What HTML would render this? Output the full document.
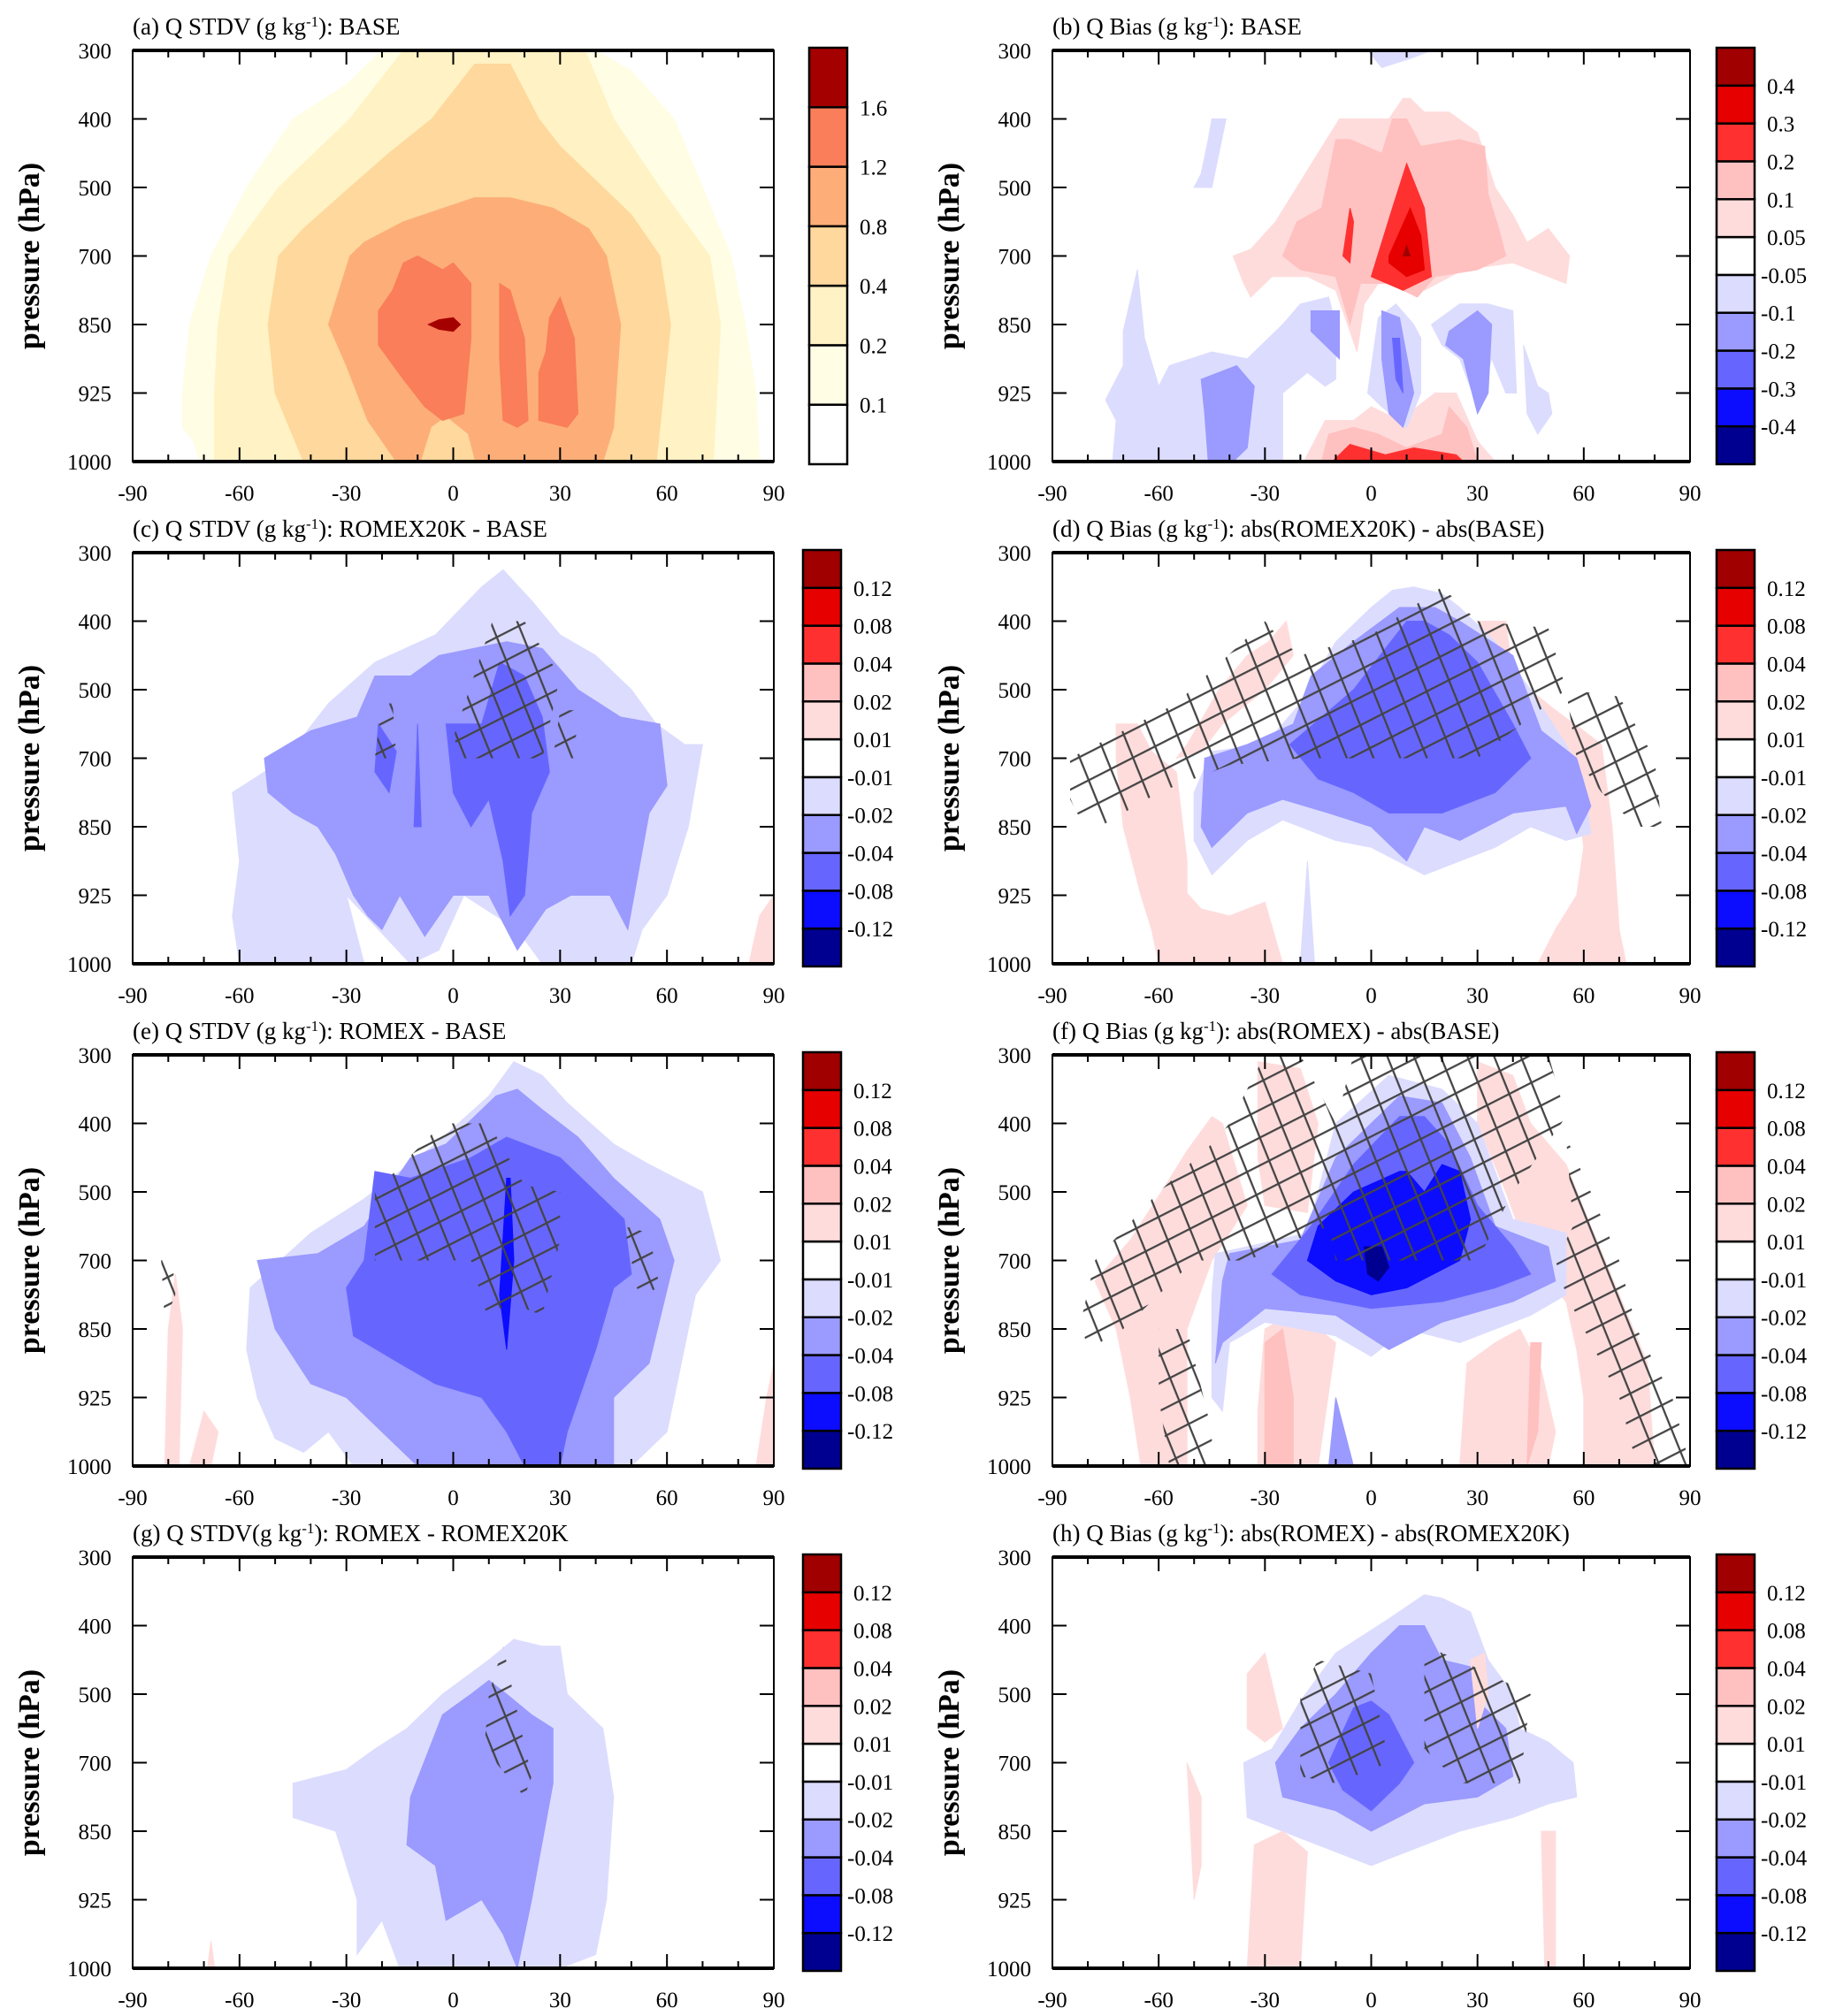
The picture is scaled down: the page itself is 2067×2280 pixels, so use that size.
<!DOCTYPE html>
<html><head><meta charset="utf-8">
<style>
html,body{margin:0;padding:0;background:#fff;}
svg{display:block;font-family:"Liberation Serif",serif;}
</style></head>
<body>
<svg id="fig" width="2067" height="2280" viewBox="0 0 2067 2280" xmlns="http://www.w3.org/2000/svg">
<defs>
<pattern id="hatchA" width="28" height="28" patternUnits="userSpaceOnUse" patternTransform="rotate(-27)">
<line x1="0" y1="1" x2="28" y2="1" stroke="#444" stroke-width="2.6"/></pattern>
<pattern id="hatchB" width="28" height="28" patternUnits="userSpaceOnUse" patternTransform="rotate(68)">
<line x1="0" y1="1" x2="28" y2="1" stroke="#444" stroke-width="2.6"/></pattern>
</defs>
</svg>
<script>
// ---------- palettes & colourbar labels ----------
const seqColors = ['#ffffff','#fffde4','#fff2c4','#fed89c','#fdae78','#f97e59','#a50000'];
const divColors = ['#000090','#0c0cff','#6666ff','#9a9aff','#dcdcff','#ffffff','#ffdcdc','#ffc0c0','#ff3030','#e60000','#a00000'];
const seqLabels = ['0.1','0.2','0.4','0.8','1.2','1.6'];
const biasLabels = ['-0.4','-0.3','-0.2','-0.1','-0.05','0.05','0.1','0.2','0.3','0.4'];
const diffLabels = ['-0.12','-0.08','-0.04','-0.02','-0.01','0.01','0.02','0.04','0.08','0.12'];
const xTicks = [-90,-60,-30,0,30,60,90];
const yTicks = ['300','400','500','700','850','925','1000'];

// ---------- contour regions: [colourIndex, lat[], levelIndex[]] ----------
const regA = [
 [1,[-20,-30,-45,-58,-68,-74,-76,-76,-73,-71,86,85,82,78,70,62,50,40],[0,0.5,1,2,3,4,5,5.5,5.7,6,6,5,4,3,2,1,0.3,0]],
 [2,[-14,-29,-49,-63,-66,-67,-67,73,75,72,58,45,37],[0,1,2,3,4,5,6,6,4,3,2,1,0]],
 [3,[6,-6,-18,-29,-42,-49,-52,-50,-42,57,61,58,50,42,30,24,16],[0.2,1,1.5,2,2.6,3,4,5,6,6,4,3,2.4,2,1.4,1,0.2]],
 [4,[6,-14,-25,-29,-35,-30,-24,-16,42,45,47,43,38,28,16],[2.15,2.5,2.8,3,4,4.6,5.4,6,6,5.5,4,3,2.6,2.3,2.15]],
 [3,[-9,-6,-2,4,6],[6,5.5,5.35,5.6,6]],
 [5,[-14,-10,-3,0,5,5,3,-3,-8,-14,-21,-21,-17],[3.1,3.0,3.2,3.1,3.4,4.2,5.3,5.4,5.2,4.8,4.3,3.8,3.5]],
 [5,[13,16,20,21,18,14,13],[3.4,3.5,4.2,5.4,5.5,5.4,4.5]],
 [5,[30,34,35,32,24,24,26,27],[3.6,4.2,5.3,5.5,5.4,4.7,4.4,3.9]],
 [6,[-7,-4,0,2,0,-4],[4,3.93,3.9,4,4.1,4.07]]
];
const regB = [
 [6,[9,5,-9,-15,-21,-27,-34,-39,-36,-34,-28,-18,-10,-4,-2,2,8,15,26,40,50,55,56,50,44,40,35,30,22,15,11],[0.7,1,1,1.5,2,2.5,2.9,3,3.4,3.6,3.3,3.3,3.5,4.4,3.7,3.4,3.3,3.5,3.2,3.1,3.3,3.4,3,2.6,2.8,2.4,2,1.2,0.9,0.9,0.7]],
 [7,[-10,-14,-21,-25,-20,-10,-6,-3,5,13,18,30,38,36,33,32,25,14,10,6,3,-6],[1.3,2.3,2.5,3,3.2,3.3,4,3.4,3.4,3.6,3.3,3.2,3,2.6,2.1,1.4,1.3,1.4,1,1,1.5,1.3]],
 [8,[10,6,0,9,17,15],[1.65,2.3,3.3,3.5,3.3,2.3]],
 [8,[-6,-8,-6,-5],[2.3,3,3.1,2.5]],
 [9,[11,5,5,10,15,14],[2.3,3,3.1,3.3,3.2,2.7]],
 [10,[10,9,11],[2.85,3,3]],
 [6,[-19,-13,-5,0,8,18,24,30,35],[6,5.4,5.4,5.2,5.4,5,5,5.7,6]],
 [7,[-14,-12,-5,2,10,20,22,27,30],[6,5.6,5.5,5.6,5.8,5.6,5.2,5.5,6]],
 [8,[-11,-6,4,12,24,26],[6,5.75,5.9,5.8,5.9,6]],
 [4,[-73,-72,-75,-70,-70,-66,-64,-60,-57,-45,-35,-25,-20,-12,-10,-10,-13,-18,-25,-25],[6,5.4,5.1,4.6,4.1,3.2,4.2,4.9,4.6,4.4,4.5,4,3.7,3.6,4,4.8,4.9,4.7,5,6]],
 [4,[2,7,12,14,14,10,3,-1],[3.9,3.7,4,4.2,5,5.5,5.2,5]],
 [4,[17,25,33,40,41,38,34,30,25,20],[4,3.7,3.7,3.8,5,5,4.5,5.2,4.5,4.3]],
 [4,[43,47,50,51,47,44],[4.3,4.9,5,5.3,5.6,5.3]],
 [4,[-45,-41,-45,-50,-48,-46],[1,1,2,2,1.8,1.3]],
 [4,[-1,17,12,3],[0,0,0.1,0.25]],
 [3,[-48,-38,-33,-35,-39,-46,-47],[4.8,4.6,4.9,5.8,6,6,5.3]],
 [3,[-17,-9,-9,-17],[3.8,3.8,4.5,4.1]],
 [3,[3,8,12,9,5,3],[3.8,3.9,5,5.5,5.3,4.5]],
 [3,[22,30,34,33,30,26,21],[4.1,3.8,4,5,5.3,4.5,4.3]],
 [2,[6,8,9,7],[4.2,4.2,5,4.8]]
];
const regC = [
 [4,[14,8,-5,-22,-35,-47,-62,-60,-62,-60,-25,-30,-12,-4,3,18,25,50,53,60,66,70,65,57,50,40,30,22],[0.25,0.5,1.2,1.6,2.2,3,3.5,4.5,5.3,6,6,5,6,5.8,5,5.5,6,6,5.5,5,4,2.8,2.8,2.5,2,1.5,1.2,0.7]],
 [3,[15,-4,-12,-22,-27,-40,-53,-52,-45,-38,-33,-28,-24,-20,-15,-8,0,10,18,26,33,44,49,55,60,58,47,35,25],[1.3,1.5,1.8,1.8,2.4,2.6,3,3.5,3.8,4,4.4,5,5.3,5.5,5,5.6,5,5,5.8,5.2,5,5,5.5,3.8,3.4,2.5,2.4,2,1.4]],
 [2,[13,8,-2,0,5,10,14,16,20,22,27,25,20],[1.6,2.5,2.5,3.5,4,3.6,4.5,5.3,5,3.8,3.2,2.4,1.8]],
 [2,[-21,-22,-18,-16],[2.5,3.2,3.5,2.9]],
 [2,[-10,-11,-9],[2.5,4,4]],
 [6,[83,86,90,90],[6,5.3,5,6]]
];
const hatC = [
 [[11,0,3,25,30,20],[1,2.7,3,3,1.8,1]],
 [[-20,-22,-16,-17],[2.2,3,3,2.2]],
 [[30,28,34,35],[2.3,3,3,2.3]]
];
const regD = [
 [6,[-72,-66,-62,-55,-52,-52,-60,-62,-65,-70,-72],[2.5,2.5,2.9,3.2,4.5,6,6,5.5,5,4,3]],
 [6,[-29,-24,-22,-30,-42,-48,-55,-52,-43,-35],[1.3,1,1.5,2,2.5,2.9,3,2.8,2,1.5]],
 [6,[30,38,40,52,60,65,68,70,72,47,52,58,60,58],[1,1,1.8,2.3,2.6,2.8,4,5.5,6,6,5.5,5,4.3,3.5]],
 [6,[-52,-60,-55,-48,-40,-30,-25],[6,5,4.8,5.2,5.3,5.1,6]],
 [4,[6,0,-10,-20,-30,-45,-50,-50,-45,-35,-25,-10,0,15,25,35,45,55,62,60,55,45,35,25,20,12],[0.55,0.8,1.3,2.2,2.8,2.9,3.5,4.2,4.7,4.2,3.9,4.2,4.3,4.7,4.5,4.3,4,4.2,4.1,3.3,2.8,2,1.3,0.8,0.6,0.5]],
 [3,[8,-5,-17,-22,-35,-47,-48,-45,-35,-25,-12,0,10,15,25,40,55,58,62,58,48,40,25,18],[0.8,1.3,1.8,2.5,2.8,3,4,4.3,3.8,3.6,3.8,4,4.5,4,4.2,3.8,3.7,4.1,3.7,3,2.6,1.5,1,0.8]],
 [2,[10,-5,-23,-15,-5,5,20,35,45,40,30,22,15],[1,2,2.8,3.3,3.5,3.8,3.8,3.5,3,2.5,1.6,1.2,1]],
 [4,[-20,-18,-16],[6,4.5,6]]
];
const hatD = [
 [[-85,-55,-30,-25,-20,0,20,30,50,55,30,-20,-40,-60,-80,-85],[3,2.2,1,1.3,1.5,1.2,0.5,1,1.1,2,3,3,3.1,3.5,4.1,3.6]],
 [[55,70,80,82,75,65,58],[2,2.1,3,4,4,3.5,3]]
];
const regE = [
 [4,[17,10,-5,-25,-40,-57,-58,-55,-50,-42,-35,-28,50,60,68,75,70,55,45,32,25],[0.1,0.6,1.3,2.1,2.6,3.4,4.3,5,5.6,5.8,5.5,6,6,5.5,3.5,3,2,1.6,1.3,0.7,0.3]],
 [3,[12,-2,-12,-25,-38,-55,-50,-40,-30,-20,-10,45,45,55,62,58,45,35,25,18],[0.6,1.3,1.5,2.5,2.9,3,4,4.8,5,5.5,6,6,5,4.5,3,2.4,1.8,1.2,0.8,0.5]],
 [2,[-22,-25,-30,-28,-15,-5,8,15,20,30,32,40,45,50,48,40,30,15,5,-12],[1.7,3,3.4,4.1,4.5,4.8,5,5.5,6,6,5.5,4.3,3.4,3.2,2.4,2,1.5,1.2,1.5,1.8]],
 [1,[15,13,15,17,16],[1.8,3.5,4.3,3,1.8]],
 [6,[-81,-80,-78,-76,-77],[6,4,3.2,4,6]],
 [6,[-74,-70,-66,-68],[6,5.2,5.5,6]],
 [6,[85,88,90,90],[6,5,4.5,6]]
];
const hatE = [
 [[-3,-22,-22,-10,5,10,15,25,30,30,20,10],[1,2,3,3,3,3.9,3.6,3.8,2.7,2,1.9,1]],
 [[48,55,58,52],[2.5,2.6,3.4,3.5]],
 [[-82,-79,-78,-81],[3,2.9,3.5,3.9]]
];
const regF = [
 [6,[-45,-42,-35,-45,-52,-52,-65,-68,-72,-78,-68,-58,-52],[0.9,1,2.2,3,4,6,6,5,4,3.3,2.7,1.9,1.4]],
 [6,[-32,-20,-15,-18,-30,-32],[0.1,0.2,1,2.3,2.2,1.5]],
 [6,[30,40,45,55,62,70,78,80,60,60,58,55,45,38,30],[0.1,0.3,1,1.6,2.5,3.5,4.5,6,6,5,4.3,3.6,3,2,1]],
 [6,[-32,-32,-30,-20,-15,-10,-15],[6,5.2,4,3.7,4,4.2,6]],
 [6,[25,27,35,42,48,52,50],[6,4.5,4.2,4,4.6,5.5,6]],
 [7,[-30,-30,-25,-22,-22],[6,4.2,4,5,6]],
 [7,[45,48,47,44],[4.2,4.2,5.5,6]],
 [4,[5,-10,-18,-35,-44,-45,-45,-42,-40,-30,-20,-10,0,10,25,45,55,55,40,30,20],[0.3,1,2.6,2.8,2.9,3.5,5,5.2,4.2,3.9,4,4.1,4.4,4,4.2,3.8,3.5,2.6,2.4,1,0.5]],
 [3,[8,-10,-20,-40,-42,-44,-42,-30,-10,5,20,40,52,50,35,28,20],[0.6,1.5,2.7,2.9,3.3,4.5,4.2,3.7,3.8,4.3,3.9,3.6,3.3,2.8,2.5,1.5,0.7]],
 [3,[-12,-10,-5],[6,5,6]],
 [2,[8,-5,-17,-28,-20,0,20,35,45,40,30,22,15],[0.9,1.6,2.5,3.2,3.5,3.7,3.6,3.4,3.2,2.8,2.2,1.3,0.9]],
 [1,[8,-5,-15,-18,-10,0,10,25,28,25,20,15,10],[1.7,2,2.5,3,3.3,3.5,3.4,3,2.4,1.7,1.6,2,1.7]],
 [0,[-2,3,5,2,-1],[2.8,2.8,3.1,3.3,3.2]]
];
const hatF = [
 [[-30,-20,-10,-5,50,55,40,30,-10,-12,-35,-50,-70,-80,-82,-78,-60,-45,-40,-35],[0,0,1,0,0,0.9,2,3,3,2.5,3,3,4,4.3,3.9,3,2,1.3,1,0.5]],
 [[-60,-52,-45,-45,-57,-60],[4,4,5.5,6,6,5]],
 [[55,62,70,75,85,90,75,70,65,55,52,57],[1.2,2,3,4,5,6,6,5,4.5,3.5,3,2.5]]
];
const regG = [
 [4,[17,10,-3,-13,-22,-30,-45,-45,-33,-27,-27,-20,-15,30,40,43,45,42,32,30,25],[1.2,1.5,2,2.5,2.8,3.1,3.3,3.8,4,5,5.8,5.3,6,6,5.8,5,3.5,2.5,2,1.3,1.3]],
 [3,[10,5,-3,-12,-13,-5,-2,8,14,18,22,28,28,22,15],[1.8,2,2.3,3.5,4.2,4.5,5.3,5,5.5,6,5,3.3,2.5,2.3,2]],
 [6,[-69,-68,-67],[6,5.6,6]]
];
const hatG = [
 [[10,14,19,22,20,12,9],[2,1.3,2.5,3.2,3.5,3,2.6]]
];
const regH = [
 [4,[15,5,-10,-20,-28,-36,-35,-25,-15,0,10,25,40,50,58,57,50,42,40,33,28,20],[0.55,0.9,1.4,2.1,2.8,3,3.8,4,4.2,4.5,4.3,4,3.8,3.6,3.5,3,2.7,2.5,2,1.5,0.8,0.6]],
 [3,[8,0,-10,-20,-27,-25,-10,0,15,30,40,38,32,28,20,15],[1,1.4,2,2.5,3,3.5,3.7,4,3.6,3.5,3.2,2.5,2.2,1.6,1.5,1]],
 [2,[-5,-12,-8,0,8,12,5,0],[2.2,3,3.4,3.7,3.3,3,2.3,2.1]],
 [6,[-35,-30,-25,-30,-35],[1.7,1.4,2.5,2.7,2.5]],
 [6,[28,32,33,30],[1.5,1.4,2,2.5]],
 [6,[-48,-52,-50,-48],[3.5,3,5,4.5]],
 [6,[-35,-33,-25,-18,-20],[6,4.2,4,4.3,6]],
 [6,[48,52,52,49],[4,4,6,6]]
];
const hatH = [
 [[-20,-15,0,5,-10,-20],[2,1.5,1.7,3,3.3,3.2]],
 [[15,25,45,42,25,15],[1.3,1.5,2,3.3,3.3,2.8]]
];

// ---------- panel layout ----------
const panels = [
 {id:'a',col:0,row:0,title:'(a) Q  STDV (g kg<tspan baseline-shift="super" font-size="17">-1</tspan>): BASE',reg:regA,hat:[],pal:seqColors,lab:seqLabels},
 {id:'b',col:1,row:0,title:'(b) Q  Bias (g kg<tspan baseline-shift="super" font-size="17">-1</tspan>): BASE',reg:regB,hat:[],pal:divColors,lab:biasLabels},
 {id:'c',col:0,row:1,title:'(c)  Q  STDV (g kg<tspan baseline-shift="super" font-size="17">-1</tspan>):  ROMEX20K - BASE',reg:regC,hat:hatC,pal:divColors,lab:diffLabels},
 {id:'d',col:1,row:1,title:'(d)  Q  Bias (g kg<tspan baseline-shift="super" font-size="17">-1</tspan>):  abs(ROMEX20K) - abs(BASE)',reg:regD,hat:hatD,pal:divColors,lab:diffLabels},
 {id:'e',col:0,row:2,title:'(e)  Q  STDV (g kg<tspan baseline-shift="super" font-size="17">-1</tspan>):  ROMEX - BASE',reg:regE,hat:hatE,pal:divColors,lab:diffLabels},
 {id:'f',col:1,row:2,title:'(f)  Q  Bias (g kg<tspan baseline-shift="super" font-size="17">-1</tspan>):  abs(ROMEX) - abs(BASE)',reg:regF,hat:hatF,pal:divColors,lab:diffLabels},
 {id:'g',col:0,row:3,title:'(g)  Q  STDV(g kg<tspan baseline-shift="super" font-size="17">-1</tspan>):  ROMEX - ROMEX20K',reg:regG,hat:hatG,pal:divColors,lab:diffLabels},
 {id:'h',col:1,row:3,title:'(h)  Q  Bias (g kg<tspan baseline-shift="super" font-size="17">-1</tspan>):  abs(ROMEX) - abs(ROMEX20K)',reg:regH,hat:hatH,pal:divColors,lab:diffLabels}
];
const NS='http://www.w3.org/2000/svg';
const svg=document.getElementById('fig');
function mk(tag,attrs,parent){const e=document.createElementNS(NS,tag);for(const k in attrs)e.setAttribute(k,attrs[k]);(parent||svg).appendChild(e);return e;}

panels.forEach(p=>{
  const x0=p.col?1190:150, x1=p.col?1911:875;
  const y0=57+p.row*568, y1=y0+465;
  const xs=lat=>x0+(lat+90)/180*(x1-x0);
  const ys=lv=>y0+lv/6*(y1-y0);
  const g=mk('g',{});
  
  
  const clipId='clip'+p.id;
  const cp=mk('clipPath',{id:clipId},g);
  mk('rect',{x:x0,y:y0,width:x1-x0,height:y1-y0},cp);
  const area=mk('g',{'clip-path':'url(#'+clipId+')'},g);
  p.reg.forEach((r,i)=>{
    const pts=r[1].map((la,j)=>xs(la).toFixed(1)+','+ys(r[2][j]).toFixed(1)).join(' ');
    const poly=mk('polygon',{points:pts,fill:p.pal[r[0]],stroke:p.pal[r[0]],'stroke-width':1},area);
    
    
  });
  p.hat.forEach((h,i)=>{
    const pts=h[0].map((la,j)=>xs(la).toFixed(1)+','+ys(h[1][j]).toFixed(1)).join(' ');
    ['hatchA','hatchB'].forEach(pid=>{
      const hp=mk('polygon',{points:pts,fill:'url(#'+pid+')'},area);
      
      
    });
  });
  const fr=mk('rect',{x:x0,y:y0,width:x1-x0,height:y1-y0,fill:'none',stroke:'#000','stroke-width':2},g);
  
  
  mk('line',{x1:x0,y1:y0,x2:x1,y2:y0,stroke:'#000','stroke-width':4},g);
  mk('line',{x1:x0,y1:y1,x2:x1,y2:y1,stroke:'#000','stroke-width':4},g);
  for(let la=-90;la<=90;la+=10){
    const L=(la%30===0)?16:8, X=xs(la);
    mk('line',{x1:X,y1:y0,x2:X,y2:y0+L,stroke:'#000','stroke-width':2},g);
    mk('line',{x1:X,y1:y1,x2:X,y2:y1-L,stroke:'#000','stroke-width':2},g);
  }
  xTicks.forEach(v=>{
    const t=mk('text',{x:xs(v),y:y1+44,'font-size':25,'text-anchor':'middle'},g);
    t.textContent=String(v);
    
    
  });
  yTicks.forEach((v,i)=>{
    const Y=ys(i);
    mk('line',{x1:x0,y1:Y,x2:x0+16,y2:Y,stroke:'#000','stroke-width':2},g);
    mk('line',{x1:x1,y1:Y,x2:x1-16,y2:Y,stroke:'#000','stroke-width':2},g);
    const t=mk('text',{x:x0-24,y:Y+9,'font-size':25,'text-anchor':'end'},g);
    t.textContent=v;
    
    
  });
  const yt=mk('text',{x:0,y:0,'font-size':34,'font-weight':'bold','text-anchor':'middle',transform:'translate('+(x0-106)+','+((y0+y1)/2)+') rotate(-90)'},g);
  yt.textContent='pressure (hPa)';
  
  
  const tt=mk('text',{x:x0,y:y0-18,'font-size':27},g);
  tt.innerHTML=p.title;
  
  
  const cx=p.col?1941:(p.row===0?915:908), cw=43, cy0=y0-3, cy1=y1+3;
  const n=p.pal.length, bh=(cy1-cy0)/n;
  const cb=mk('g',{},g);
  
  
  p.pal.forEach((c,i)=>{
    const yy=cy1-(i+1)*bh;
    const r=mk('rect',{x:cx,y:yy,width:cw,height:bh,fill:c,stroke:'#000','stroke-width':2.5},cb);
    
    
  });
  p.lab.forEach((l,i)=>{
    const yy=cy1-(i+1)*bh;
    const t=mk('text',{x:cx+cw+(l[0]==='-'?7:14),y:yy+9,'font-size':25},cb);
    t.textContent=l;
    
    
  });
});
</script>
</body></html>
